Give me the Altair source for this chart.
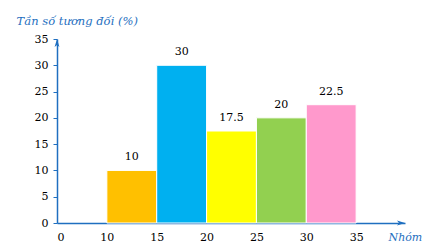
import altair as alt
import pandas as pd

starts = [10, 15, 20, 25, 30]
ends = [15, 20, 25, 30, 35]
values = [10, 30, 17.5, 20, 22.5]
labels = ["10", "30", "17.5", "20", "22.5"]
colors = ["#FFC000", "#00B0F0", "#FFFF00", "#92D050", "#FF99CC"]
x_ticks = [5, 10, 15, 20, 25, 30, 35]
y_ticks = [0, 5, 10, 15, 20, 25, 30, 35]

df = pd.DataFrame({"start": starts, "end": ends, "value": values,
                   "label": labels, "color": colors})
df["mid"] = (df["start"] + df["end"]) / 2

BLUE = "#1F6FC0"
FONT = "DejaVu Serif"

xscale = alt.Scale(domain=[5, 39.9], nice=False, zero=False)
yscale = alt.Scale(domain=[0, 35], nice=False)

xaxis = alt.Axis(values=x_ticks, labelExpr="datum.value == 5 ? '0' : datum.label",
                 ticks=False, grid=False, domainColor=BLUE, domainWidth=1.5,
                 labelFont=FONT, labelFontSize=11, labelColor="black", labelPadding=8,
                 labelOverlap=False,
                 title="Nhóm", titleFont=FONT, titleFontStyle="italic",
                 titleFontWeight="normal", titleFontSize=11, titleColor=BLUE,
                 titleX=331, titleY=14, titleAlign="left", titleBaseline="middle",
                 titleAnchor="start")
yaxis = alt.Axis(values=y_ticks, grid=False, domainColor=BLUE, domainWidth=1.5,
                 tickColor=BLUE, tickSize=4, labelOverlap=False,
                 labelFont=FONT, labelFontSize=11, labelColor="black", labelPadding=5,
                 title="Tần số tương đối (%)", titleFont=FONT, titleFontStyle="italic",
                 titleFontWeight="normal", titleFontSize=11.5, titleColor=BLUE,
                 titleAngle=0, titleX=-41, titleY=-18, titleAlign="left",
                 titleBaseline="middle", titleAnchor="start")

base = alt.Chart(df)

bars = base.mark_rect(stroke="white", strokeWidth=1).encode(
    x=alt.X("start:Q", scale=xscale, axis=xaxis),
    x2="end:Q",
    y=alt.Y("value:Q", scale=yscale, axis=yaxis),
    y2=alt.datum(0),
    color=alt.Color("color:N", scale=None),
)

text = base.mark_text(font=FONT, fontSize=11, color="black", baseline="bottom", dy=-8).encode(
    x=alt.X("mid:Q", scale=xscale, axis=xaxis),
    y=alt.Y("value:Q", scale=yscale, axis=yaxis),
    text="label:N",
)

up_arrow = alt.Chart(pd.DataFrame({"a": [0]})).mark_point(
    shape="M0,0 L0.6,2 L0,1.5 L-0.6,2 Z", filled=True, color=BLUE, size=64, opacity=1
).encode(x=alt.datum(5, scale=xscale, axis=xaxis), y=alt.datum(35, scale=yscale, axis=yaxis))

right_arrow = alt.Chart(pd.DataFrame({"a": [0]})).mark_point(
    shape="M0,0 L-2,-0.6 L-1.5,0 L-2,0.6 Z", filled=True, color=BLUE, size=64, opacity=1
).encode(x=alt.datum(39.9, scale=xscale, axis=xaxis), y=alt.datum(0, scale=yscale, axis=yaxis))

chart = alt.layer(bars, text, up_arrow, right_arrow).properties(
    width=348, height=184,
    autosize=alt.AutoSizeParams(type="none"),
    padding={"left": 57, "top": 39, "right": 41, "bottom": 27},
).configure_view(stroke=None)

chart.save("out.html", embed_options={"renderer": "svg", "actions": False})
